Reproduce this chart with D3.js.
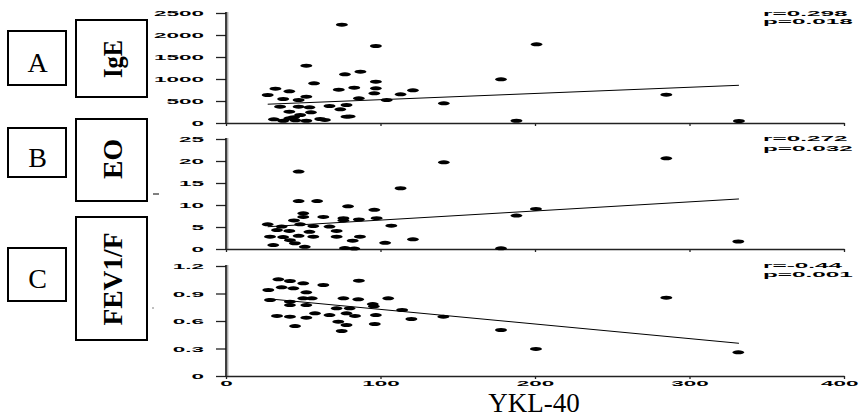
<!DOCTYPE html>
<html><head><meta charset="utf-8">
<script src="https://cdn.jsdelivr.net/npm/d3@7"></script>
<style>body{margin:0;background:#fff}svg{display:block}</style>
</head><body><svg id="c" width="860" height="417"></svg>
<script>
// ---------- data ----------
const xDomain = [0, 400];
const xTicks = [0, 100, 200, 300, 400];
const xTitle = "YKL-40";

const panelLetters = ["A", "B", "C"];
const panelNames = ["IgE", "EO", "FEV1/F"];
const yDomains = [[0, 2500], [0, 25], [0, 1.2]];
const igeTicks = [0, 500, 1000, 1500, 2000, 2500];
const eoTicks = [0, 5, 10, 15, 20, 25];
const fevTicks = [0, 0.3, 0.6, 0.9, 1.2];
const statR = ["r=0.298", "r=0.272", "r=-0.44"];
const statP = ["p=0.018", "p=0.032", "p=0.001"];

const igeX = [75,97,52,77,87,57,97,32,41,73,83,97,96,121,113,27,52,37,47,86,104,35,47,54,67,78,74,41,55,78,31,41,48,61,37,52,44,141,178,201,188,285,332,64,45,80];
const igeY = [2235,1750,1303,1107,1166,902,939,780,720,757,803,788,675,743,652,636,598,545,523,561,523,371,371,356,386,409,311,257,243,143,84,107,182,91,52,52,130,447,993,1788,52,644,45,70,60,150];

const eoX = [47,113,141,47,59,79,96,50,50,63,76,76,86,97.5,44,27,36,48,56.5,67,107,33,41,54,71.6,28.5,37,47,56.5,71.6,41.4,82,86.7,103,121,30.6,51,77,83,44.6,188,200.6,285,331.6,178];
const eoY = [17.6,13.8,19.7,10.9,10.9,9.7,8.9,8.1,7.3,7.3,7.0,6.5,6.7,7.0,6.5,5.6,5.1,5.6,5.2,5.1,5.3,4.3,4.1,3.9,4.1,2.8,2.7,3.0,2.8,2.8,2.0,1.9,2.8,1.4,2.2,0.9,0.5,0.2,0.1,1.3,7.6,9.1,20.6,1.7,0.15];

const fevX = [33.9,41.4,50,63,86,27.4,36,43.6,52,28.5,41.4,50,55.5,41.4,52,76,85.6,105,95,95.7,71.6,80,114,33,41.4,52,57.6,67,78,83.5,97,120,44.7,72.7,78,96.3,74.9,140.7,178,200.6,285,331.6];
const fevY = [1.055,1.036,1.011,0.993,1.04,0.938,0.967,0.956,0.913,0.829,0.811,0.847,0.847,0.774,0.774,0.847,0.836,0.847,0.785,0.76,0.738,0.738,0.72,0.655,0.647,0.636,0.684,0.665,0.684,0.655,0.665,0.622,0.545,0.593,0.556,0.567,0.491,0.647,0.502,0.295,0.855,0.258];

// regression lines: [intercept, slope], x-range
const fitIntercepts = [389, 4.5, 0.886];
const fitSlopes = [1.41, 0.0207, -0.001594];
const fitRange = [27, 332];

// ---------- layout ----------
const svg = d3.select("#c");
svg.append("rect").attr("width", 860).attr("height", 417).attr("fill", "#fff");
const x = d3.scaleLinear().domain(xDomain).range([226, 844]);
const panelRanges = [[123, 13], [249, 139], [376, 266]];
const tickSets = [igeTicks, eoTicks, fevTicks];
const xs = [igeX, eoX, fevX], ys = [igeY, eoY, fevY];
const letterBoxes = [[8, 31, 58, 54, 72], [8, 128, 58, 49, 167], [8, 248, 58, 53, 288]];
const nameBoxes = [[76, 20, 71, 77, 59, 38], [76, 119, 71, 82, 159, 40], [76, 217, 71, 123, 279, 93]];
const statY = [[13, 21.5], [138, 148], [265, 274]];
const fmt = v => (v === 0 ? "0" : (Number.isInteger(v) ? String(v) : d3.format(".1f")(v)));

panelNames.forEach((name, i) => {
  const y = d3.scaleLinear().domain(yDomains[i]).range(panelRanges[i]);
  const g = svg.append("g");

  // label boxes
  const lb = letterBoxes[i];
  g.append("rect").attr("x", lb[0]).attr("y", lb[1]).attr("width", lb[2]).attr("height", lb[3])
    .attr("fill", "none").attr("stroke", "#000").attr("stroke-width", 2);
  g.append("text").attr("x", lb[0] + lb[2] / 2 + 0.5).attr("y", lb[4]).attr("text-anchor", "middle")
    .attr("font-family", "Liberation Serif, Times New Roman, serif").attr("font-size", 28)
    .text(panelLetters[i]);
  const nb = nameBoxes[i];
  g.append("rect").attr("x", nb[0]).attr("y", nb[1]).attr("width", nb[2]).attr("height", nb[3])
    .attr("fill", "none").attr("stroke", "#000").attr("stroke-width", 2);
  g.append("text").attr("transform", `translate(122,${nb[4]}) rotate(-90)`)
    .attr("text-anchor", "middle").attr("font-family", "Liberation Serif, Times New Roman, serif")
    .attr("font-weight", "bold").attr("font-size", 28)
    .attr("textLength", nb[5]).attr("lengthAdjust", "spacingAndGlyphs")
    .text(name);

  // y axis
  const ya = d3.axisLeft(y).tickValues(tickSets[i]).tickSize(10).tickSizeOuter(0).tickFormat(fmt);
  const yg = g.append("g").attr("transform", "translate(226,0)").call(ya);
  yg.select(".domain").remove();
  yg.selectAll(".tick line").attr("stroke", "#222").attr("stroke-width", 1.3);
  yg.selectAll(".tick text").attr("x", null).attr("dy", "0.35em")
    .attr("transform", "translate(-22,0) scale(2.5,0.8)")
    .attr("text-anchor", "end").attr("font-family", "Liberation Sans, Arial, sans-serif")
    .attr("font-weight", "bold").attr("font-size", 9).attr("fill", "#000");
  g.append("line").attr("x1", 227.6).attr("x2", 227.6).attr("y1", panelRanges[i][1] - 1).attr("y2", panelRanges[i][0])
    .attr("stroke", "#aaa").attr("stroke-width", 1.6);
  g.append("line").attr("x1", 226).attr("x2", 226).attr("y1", panelRanges[i][1] - 1).attr("y2", panelRanges[i][0] + 1)
    .attr("stroke", "#111").attr("stroke-width", 1.6);

  // x axis
  const xa = d3.axisBottom(x).tickValues(xTicks).tickSize(3).tickSizeOuter(0).tickFormat(d => d);
  const xg = g.append("g").attr("transform", `translate(0,${panelRanges[i][0]})`).call(xa);
  xg.select(".domain").attr("stroke", "#222").attr("stroke-width", 1.4);
  xg.selectAll(".tick line").attr("stroke", "#222").attr("stroke-width", 1.3);
  if (i < 2) {
    xg.selectAll(".tick text").remove();
  } else {
    xg.selectAll(".tick text").attr("y", null).attr("dy", "0.35em")
      .attr("transform", (d, k, n) => k === n.length - 1 ? "translate(14,7.5) scale(2.5,0.8)" : "translate(0,7.5) scale(2.5,0.8)")
      .attr("text-anchor", (d, k, n) => k === n.length - 1 ? "end" : "middle")
      .attr("font-family", "Liberation Sans, Arial, sans-serif")
      .attr("font-weight", "bold").attr("font-size", 9).attr("fill", "#000");
  }

  // points
  const pts = xs[i].map((v, k) => [v, ys[i][k]]);
  g.append("g").selectAll("ellipse").data(pts).join("ellipse")
    .attr("cx", d => x(d[0])).attr("cy", d => y(d[1]))
    .attr("rx", 6).attr("ry", 2).attr("fill", "#000");

  // regression line
  const line = d3.line().x(d => x(d)).y(d => y(fitIntercepts[i] + fitSlopes[i] * d));
  g.append("path").attr("d", line(fitRange)).attr("fill", "none").attr("stroke", "#000").attr("stroke-width", 1);

  // stats
  [statR[i], statP[i]].forEach((s, k) => {
    g.append("text").attr("transform", `translate(763,${statY[i][k]}) scale(2.7,0.8)`)
      .attr("dy", "0.35em").attr("font-family", "Liberation Sans, Arial, sans-serif")
      .attr("font-weight", "bold").attr("font-size", 9).text(s);
  });
});

// small artefacts
svg.append("line").attr("x1", 153).attr("x2", 159).attr("y1", 194).attr("y2", 194).attr("stroke", "#000").attr("stroke-width", 1);
svg.append("rect").attr("x", 152.5).attr("y", 307.5).attr("width", 1).attr("height", 1).attr("fill", "#000");

// x title
svg.append("text").attr("x", 534).attr("y", 412).attr("text-anchor", "middle")
  .attr("font-family", "Liberation Serif, Times New Roman, serif").attr("font-size", 27)
  .text(xTitle);
</script></body></html>
